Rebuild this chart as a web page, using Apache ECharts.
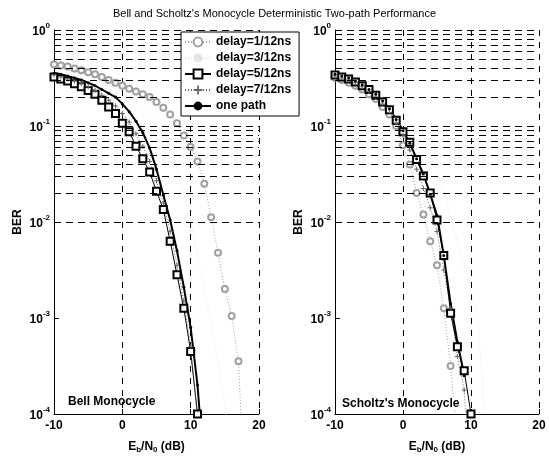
<!DOCTYPE html>
<html>
<head>
<meta charset="utf-8">
<script src="https://cdn.jsdelivr.net/npm/echarts@6/dist/echarts.min.js"></script>
<style>
html, body { margin: 0; padding: 0; background: #fff; }
#chart { width: 549px; height: 459px; }
</style>
</head>
<body>
<div id="chart"></div>
<script>
// Eb/N0 points (dB)
var ebn0 = [-10,-9,-8,-7,-6,-5,-4,-3,-2,-1,0,1,2,3,4,5,6,7,8,9,10,11,12,13,14,15,16,17,18];

// Bell monocycle BER
var bell_d1  = [4.37e-1,4.27e-1,4.17e-1,3.98e-1,3.80e-1,3.63e-1,3.47e-1,3.24e-1,3.02e-1,2.82e-1,2.63e-1,2.45e-1,2.29e-1,2.14e-1,2.00e-1,1.78e-1,1.55e-1,1.32e-1,1.07e-1,7.94e-2,6.03e-2,4.27e-2,2.51e-2,1.12e-2,4.79e-3,2.00e-3,1.05e-3,3.55e-4,1.00e-5];
var bell_d3  = [4.17e-1,3.98e-1,3.80e-1,3.63e-1,3.47e-1,3.24e-1,3.02e-1,2.82e-1,2.63e-1,2.45e-1,2.24e-1,2.04e-1,1.82e-1,1.58e-1,1.32e-1,1.05e-1,7.94e-2,5.62e-2,3.55e-2,2.00e-2,1.00e-2,4.47e-3,2.00e-3,8.91e-4,3.55e-4,1.26e-4,3.16e-5];
var bell_d5  = [3.24e-1,3.09e-1,2.95e-1,2.75e-1,2.57e-1,2.34e-1,2.14e-1,1.86e-1,1.58e-1,1.35e-1,1.07e-1,8.71e-2,6.17e-2,4.57e-2,3.31e-2,2.09e-2,1.35e-2,6.31e-3,2.82e-3,1.26e-3,4.47e-4,1.00e-4];
var bell_d7  = [3.39e-1,3.24e-1,3.09e-1,2.95e-1,2.75e-1,2.57e-1,2.34e-1,2.09e-1,1.86e-1,1.62e-1,1.35e-1,1.10e-1,8.32e-2,6.17e-2,4.27e-2,2.69e-2,1.58e-2,7.94e-3,3.55e-3,1.51e-3,5.01e-4,8.91e-5];
var bell_one = [3.55e-1,3.47e-1,3.31e-1,3.16e-1,3.02e-1,2.82e-1,2.63e-1,2.40e-1,2.19e-1,2.00e-1,1.70e-1,1.41e-1,1.12e-1,8.51e-2,5.89e-2,3.55e-2,1.91e-2,1.05e-2,5.01e-3,2.09e-3,7.94e-4,2.00e-4,2.51e-5];

// Scholtz's monocycle BER
var sch_d1  = [3.16e-1,3.02e-1,2.82e-1,2.63e-1,2.40e-1,2.14e-1,1.91e-1,1.58e-1,1.32e-1,1.00e-1,6.31e-2,3.98e-2,2.00e-2,1.20e-2,6.31e-3,3.55e-3,1.26e-3,3.16e-4,5.01e-5];
var sch_d3  = [3.47e-1,3.31e-1,3.16e-1,2.95e-1,2.75e-1,2.51e-1,2.24e-1,2.00e-1,1.70e-1,1.41e-1,1.12e-1,8.91e-2,7.08e-2,5.62e-2,4.47e-2,3.55e-2,2.00e-2,1.12e-2,6.31e-3,3.55e-3,1.91e-3,1.00e-3,1.00e-4];
var sch_d5  = [3.39e-1,3.24e-1,3.09e-1,2.88e-1,2.63e-1,2.40e-1,2.09e-1,1.78e-1,1.48e-1,1.15e-1,8.71e-2,6.76e-2,4.47e-2,3.02e-2,2.00e-2,1.05e-2,4.47e-3,1.12e-3,5.01e-4,2.82e-4,1.00e-4];
var sch_d7  = [3.31e-1,3.16e-1,3.02e-1,2.82e-1,2.57e-1,2.29e-1,2.00e-1,1.70e-1,1.38e-1,1.07e-1,7.94e-2,5.62e-2,3.55e-2,2.24e-2,1.41e-2,7.94e-3,3.16e-3,1.26e-3,3.98e-4,1.78e-4,1.00e-5];
var sch_one = [3.47e-1,3.31e-1,3.16e-1,2.95e-1,2.69e-1,2.40e-1,2.14e-1,1.82e-1,1.51e-1,1.17e-1,8.91e-2,6.61e-2,4.57e-2,3.16e-2,1.95e-2,1.17e-2,4.47e-3,1.41e-3,5.62e-4,2.51e-4];

var names = ['delay=1/12ns','delay=3/12ns','delay=5/12ns','delay=7/12ns','one path'];
var mantissa = [1,2,3,4,5,6,7,8,9];
var decades = [-4,-3,-2,-1];

function pairs(vals) {
	return vals.map(function(v, i) { return [ebn0[i], v]; });
}

// horizontal dashed grid at every log tick
var gridVals = [];
decades.forEach(function(d) {
	mantissa.forEach(function(m) {
		if (!(d == -4 && m == 1)) gridVals.push(m * Math.pow(10, d));
	});
});
gridVals.push(1);

var dash = [7, 5];
var plus = 'path://M4,0H6V4H10V6H6V10H4V6H0V4H4Z';

function styled(idx, data, gi) {
	var s = {
		name: names[idx], type: 'line', data: pairs(data),
		xAxisIndex: gi, yAxisIndex: gi,
		animation: false, clip: true, emphasis: {disabled: true}
	};
	if (idx == 0) {
		s.symbol = 'emptyCircle'; s.symbolSize = 6;
		s.lineStyle = {color: '#a0a0a0', width: 1, type: [1, 2]};
		s.itemStyle = {color: '#a0a0a0', borderWidth: 1};
	} else if (idx == 1) {
		s.symbol = 'none';
		s.lineStyle = {color: '#e4e4e4', width: 1, type: [1, 2]};
		s.itemStyle = {color: '#e4e4e4'};
	} else if (idx == 2) {
		s.symbol = 'emptyRect'; s.symbolSize = 7;
		s.lineStyle = {color: '#000', width: 1};
		s.itemStyle = {color: '#000', borderWidth: 1};
	} else if (idx == 3) {
		s.symbol = plus; s.symbolSize = 5;
		s.lineStyle = {color: '#666', width: 1, type: [1, 2]};
		s.itemStyle = {color: '#666'};
	} else {
		s.symbol = 'circle'; s.symbolSize = 3;
		s.lineStyle = {color: '#000', width: 2};
		s.itemStyle = {color: '#000'};
	}
	return s;
}

function gridSeries(gi) {
	return {
		type: 'line', data: [], xAxisIndex: gi, yAxisIndex: gi, silent: true, animation: false,
		markLine: {
			silent: true, symbol: ['none', 'none'], animation: false,
			label: {show: false},
			lineStyle: {color: '#000', width: 1, type: dash},
			emphasis: {disabled: true},
			data: gridVals.map(function(v) { return {yAxis: v}; })
		}
	};
}

function xAx(gi) {
	return {
		type: 'value', gridIndex: gi, min: -10, max: 20, interval: 10,
		name: 'E{sub|b}/N{sub|0} (dB)', nameLocation: 'middle', nameGap: 26,
		nameTextStyle: {
			fontFamily: 'Liberation Sans', fontSize: 12, fontWeight: 'bold', color: '#000',
			rich: {sub: {fontFamily: 'Liberation Sans', fontSize: 8, fontWeight: 'bold', color: '#000', verticalAlign: 'bottom', padding: [6, 0, 0, 0]}}
		},
		axisLine: {onZero: false, lineStyle: {color: '#000', width: 1}},
		axisTick: {inside: true, length: 5, lineStyle: {color: '#000'}},
		axisLabel: {fontFamily: 'Liberation Sans', fontSize: 12, fontWeight: 'bold', color: '#000', margin: 6},
		splitLine: {show: true, lineStyle: {color: '#000', width: 1, type: [6, 6]}}
	};
}

function yAx(gi) {
	return {
		type: 'log', logBase: 10, gridIndex: gi, min: 1e-4, max: 1,
		name: 'BER', nameLocation: 'middle', nameGap: 30, nameRotate: 90,
		nameTextStyle: {fontFamily: 'Liberation Sans', fontSize: 12, fontWeight: 'bold', color: '#000'},
		axisLine: {show: true, onZero: false, lineStyle: {color: '#000', width: 1}},
		axisTick: {inside: true, length: 5, lineStyle: {color: '#000'}},
		axisLabel: {
			margin: 4,
			formatter: function(v) {
				var e = Math.round(Math.log(v) / Math.LN10);
				return '{b|10}{s|' + (e == 0 ? '0' : '-' + Math.abs(e)) + '}';
			},
			rich: {
				b: {fontFamily: 'Liberation Sans', fontSize: 12, fontWeight: 'bold', color: '#000', lineHeight: 16, verticalAlign: 'bottom'},
				s: {fontFamily: 'Liberation Sans', fontSize: 8, fontWeight: 'bold', color: '#000', lineHeight: 16, verticalAlign: 'top'}
			}
		},
		splitLine: {show: false}
	};
}

var series = [gridSeries(0), gridSeries(1)];
[bell_d3, bell_d1, bell_d5, bell_d7, bell_one].forEach(function(d, k) {
	series.push(styled([1, 0, 2, 3, 4][k], d, 0));
});
[sch_d3, sch_d1, sch_d5, sch_d7, sch_one].forEach(function(d, k) {
	series.push(styled([1, 0, 2, 3, 4][k], d, 1));
});

var option = {
	backgroundColor: '#fff',
	animation: false,
	title: {
		text: "Bell and Scholtz's Monocycle Deterministic Two-path Performance",
		left: 'center', top: 3,
		textStyle: {fontFamily: 'Liberation Sans', fontSize: 11, fontWeight: 'normal', color: '#000'}
	},
	legend: {
		data: names, orient: 'vertical', left: 181, top: 32,
		backgroundColor: '#fff', borderColor: '#000', borderWidth: 1, borderRadius: 0,
		padding: [4, 8, 4, 3], itemGap: 4, itemWidth: 26, itemHeight: 11,
		selectedMode: false, z: 10,
		textStyle: {fontFamily: 'Liberation Sans', fontSize: 12, fontWeight: 'bold', color: '#000'}
	},
	grid: [
		{left: 54, top: 30, width: 205, height: 385},
		{left: 335, top: 30, width: 204, height: 385}
	],
	xAxis: [xAx(0), xAx(1)],
	yAxis: [yAx(0), yAx(1)],
	graphic: [
		{type: 'text', left: 68, top: 396, z: 20, style: {text: 'Bell Monocycle', font: 'bold 12px "Liberation Sans"', fill: '#000'}},
		{type: 'text', left: 342, top: 398, z: 20, style: {text: "Scholtz's Monocycle", font: 'bold 12px "Liberation Sans"', fill: '#000', backgroundColor: '#fff'}}
	],
	series: series
};

echarts.init(document.getElementById('chart')).setOption(option);
</script>
</body>
</html>
